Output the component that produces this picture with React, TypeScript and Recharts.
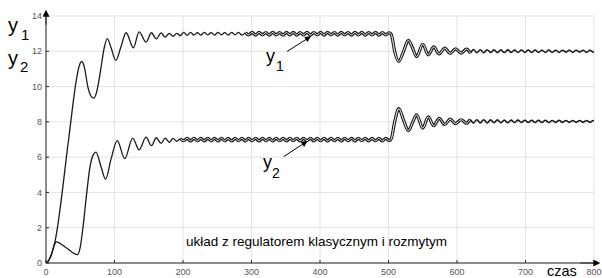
import { LineChart, Line, XAxis, YAxis, CartesianGrid, ReferenceLine } from "recharts";

const FONT = '"Liberation Sans", Arial, sans-serif';

const xTicks = [0, 100, 200, 300, 400, 500, 600, 700, 800];
const yTicks = [0, 2, 4, 6, 8, 10, 12, 14];

// y1: rozruch, tętnienia, skok zadanej w t=500, ogon
const y1Start: [number, number][] = [
    [0, 0], [4, 0.15], [8, 0.5], [13, 1.2], [33, 7.0], [44, 10.3], [48, 11.1], [52, 11.42],
    [56, 11.1], [61, 10.0], [66, 9.45], [70, 9.35], [74, 9.7], [80, 11.0], [85, 12.2], [89.5, 12.72],
    [95, 12.2], [102, 11.48], [109, 12.2], [117, 13.05], [127.5, 12.2], [136, 13.1], [146, 12.52],
    [154, 13.05], [161, 12.7], [168, 13.04], [174, 12.8], [180, 13.02], [185.5, 12.85], [191, 13.02], [196, 12.88],
];
const y1Ripple: [number, number][] = [
    [201, 13.07], [206, 12.91], [211, 13.07], [216, 12.92], [221, 13.06], [226, 12.92], [231, 13.07], [236, 12.93], [241, 13.06], [246, 12.92],
    [251, 13.07], [256, 12.93], [261, 13.06], [266, 12.92], [271, 13.07], [276, 12.93], [281, 13.07], [286, 12.92], [291, 13.06], [296, 12.93],
    [301, 13.07], [306, 12.92], [311, 13.07], [316, 12.93], [321, 13.06], [326, 12.92], [331, 13.07], [336, 12.93], [341, 13.06], [346, 12.92],
    [351, 13.07], [356, 12.93], [361, 13.07], [366, 12.92], [371, 13.06], [376, 12.93], [381, 13.07], [386, 12.92], [391, 13.06], [396, 12.93],
    [401, 13.07], [406, 12.92], [411, 13.07], [416, 12.93], [421, 13.06], [426, 12.92], [431, 13.07], [436, 12.93], [441, 13.06], [446, 12.92],
    [451, 13.07], [456, 12.93], [461, 13.07], [466, 12.92], [471, 13.06], [476, 12.93], [481, 13.07], [486, 12.92], [491, 13.06], [496, 12.93],
];
const y1Step: [number, number][] = [
    [501, 13.05], [504, 12.96], [509, 12.0], [515, 11.42], [522, 12.0], [529, 12.62], [535, 12.2], [541, 11.7],
    [550, 12.4], [558, 11.8], [566, 12.25], [574, 11.85], [582, 12.18], [590, 11.88], [598, 12.14], [606, 11.9], [614, 12.12],
];
const y1Tail: [number, number][] = [
    [619, 11.91], [624, 12.1], [629, 11.92], [634, 12.09], [639, 11.92], [644, 12.09], [649, 11.93], [654, 12.08], [659, 11.93], [664, 12.08],
    [669, 11.93], [674, 12.08], [679, 11.94], [684, 12.07], [689, 11.93], [694, 12.07], [699, 11.94], [704, 12.07], [709, 11.94], [714, 12.07],
    [719, 11.94], [724, 12.06], [729, 11.94], [734, 12.07], [739, 11.94], [744, 12.06], [749, 11.94], [754, 12.06], [759, 11.95], [764, 12.06],
    [769, 11.94], [774, 12.06], [779, 11.95], [784, 12.06], [789, 11.94], [794, 12.06], [799, 11.95], [800, 11.97],
];

// y2
const y2Start: [number, number][] = [
    [0, 0], [4, 0.15], [8, 0.5], [12, 1.0], [15, 1.2], [30, 0.85], [46, 0.48], [50, 0.9], [53.5, 1.86],
    [59.4, 3.95], [64, 5.4], [69, 6.13], [73, 6.28], [80, 5.5], [87, 4.75], [95, 5.9], [104, 6.94],
    [115, 5.92], [126.5, 7.08], [136, 6.41], [146, 7.13], [154, 6.65], [161, 7.1], [168, 6.78], [174, 7.08],
    [180, 6.84], [185.5, 7.06], [191, 6.9], [196, 7.05],
];
const y2Ripple: [number, number][] = [
    [201, 6.93], [206, 7.07], [211, 6.92], [216, 7.07], [221, 6.93], [226, 7.06], [231, 6.92], [236, 7.07], [241, 6.93], [246, 7.06],
    [251, 6.92], [256, 7.07], [261, 6.93], [266, 7.06], [271, 6.92], [276, 7.07], [281, 6.93], [286, 7.07], [291, 6.92], [296, 7.06],
    [301, 6.93], [306, 7.07], [311, 6.92], [316, 7.07], [321, 6.93], [326, 7.06], [331, 6.92], [336, 7.07], [341, 6.93], [346, 7.06],
    [351, 6.92], [356, 7.07], [361, 6.93], [366, 7.07], [371, 6.92], [376, 7.06], [381, 6.93], [386, 7.07], [391, 6.92], [396, 7.06],
    [401, 6.93], [406, 7.07], [411, 6.92], [416, 7.07], [421, 6.93], [426, 7.06], [431, 6.92], [436, 7.07], [441, 6.93], [446, 7.06],
    [451, 6.92], [456, 7.07], [461, 6.93], [466, 7.07], [471, 6.92], [476, 7.06], [481, 6.93], [486, 7.07], [491, 6.92], [496, 7.06],
];
const y2Step: [number, number][] = [
    [501, 6.94], [504, 7.04], [509, 8.0], [515, 8.75], [522, 8.1], [529, 7.5], [535, 7.95], [541, 8.4],
    [550, 7.65], [558, 8.28], [566, 7.78], [574, 8.2], [582, 7.85], [590, 8.15], [598, 7.9], [606, 8.12], [614, 7.92],
];
const y2Tail: [number, number][] = [
    [619, 8.13], [624, 7.93], [629, 8.12], [634, 7.94], [639, 8.12], [644, 7.94], [649, 8.11], [654, 7.95], [659, 8.11], [664, 7.95],
    [669, 8.1], [674, 7.95], [679, 8.1], [684, 7.96], [689, 8.1], [694, 7.96], [699, 8.09], [704, 7.96], [709, 8.09], [714, 7.96],
    [719, 8.09], [724, 7.97], [729, 8.09], [734, 7.96], [739, 8.08], [744, 7.97], [749, 8.09], [754, 7.97], [759, 8.08], [764, 7.97],
    [769, 8.08], [774, 7.97], [779, 8.08], [784, 7.97], [789, 8.08], [794, 7.97], [799, 8.08], [800, 8.05],
];

const y1 = [...y1Start, ...y1Ripple, ...y1Step, ...y1Tail];
const y2 = [...y2Start, ...y2Ripple, ...y2Step, ...y2Tail];

const part = (pts: [number, number][], from: number, to: number) =>
    pts.filter(([t]) => t >= from && t <= to).map(([t, v]) => ({ t, v }));

const AX = "#262626";
const LINE = "#1a1a1a";

export default function App() {
    const lines = [
        { id: "y1a", data: part(y1, 0, 291), w: 1.3, tube: false },
        { id: "y1b", data: part(y1, 291, 619), w: 3.2, tube: true },
        { id: "y1c", data: part(y1, 614, 800), w: 1.6, tube: false },
        { id: "y2a", data: part(y2, 0, 201), w: 1.3, tube: false },
        { id: "y2b", data: part(y2, 196, 619), w: 3.2, tube: true },
        { id: "y2c", data: part(y2, 614, 800), w: 1.6, tube: false },
    ];

    return (
        <div style={{ position: "absolute", left: 0, top: 0, width: 602, height: 278, background: "#fff" }}>
            <LineChart width={602} height={278} margin={{ top: 16, right: 8, left: 6, bottom: 0 }}>
                <defs>
                    <marker id="smArrow" viewBox="0 0 10 10" refX="9" refY="5" markerWidth="7" markerHeight="6"
                        markerUnits="userSpaceOnUse" orient="auto">
                        <path d="M0,0 L10,5 L0,10 z" fill="#000" />
                    </marker>
                    <marker id="axArrow" viewBox="0 0 10 10" refX="1" refY="5" markerWidth="8" markerHeight="7"
                        markerUnits="userSpaceOnUse" orient="auto">
                        <path d="M0,0 L10,5 L0,10 z" fill="#000" />
                    </marker>
                </defs>
                <CartesianGrid stroke="#e3e3e3" strokeWidth={1} />
                <XAxis dataKey="t" type="number" domain={[0, 800]} ticks={xTicks} interval={0} height={15}
                    tickSize={-3} tickMargin={9} tickLine={{ stroke: AX }} axisLine={{ stroke: AX }}
                    tick={{ fontSize: 9, fill: "#555", fontFamily: FONT }} allowDataOverflow />
                <XAxis xAxisId="top" orientation="top" type="number" domain={[0, 800]} ticks={xTicks} interval={0}
                    height={0} tick={false} tickSize={-3} tickLine={{ stroke: AX }} axisLine={{ stroke: AX }} />
                <YAxis type="number" domain={[0, 14]} ticks={yTicks} interval={0} width={40}
                    tickSize={-3} tickMargin={7} tickLine={{ stroke: AX }} axisLine={{ stroke: AX }}
                    tick={{ fontSize: 9, fill: "#555", fontFamily: FONT }} allowDataOverflow />
                <YAxis yAxisId="right" orientation="right" type="number" domain={[0, 14]} ticks={yTicks} interval={0}
                    width={0} tick={false} tickSize={-3} tickLine={{ stroke: AX }} axisLine={{ stroke: AX }} />

                {lines.map((l) => (
                    <Line key={l.id} data={l.data} dataKey="v" type="monotone" stroke={LINE} strokeWidth={l.w}
                        dot={false} activeDot={false} isAnimationActive={false} />
                ))}
                {lines.filter((l) => l.tube).map((l) => (
                    <Line key={l.id + "w"} data={l.data} dataKey="v" type="monotone" stroke="#fff" strokeWidth={1}
                        dot={false} activeDot={false} isAnimationActive={false} />
                ))}

                <ReferenceLine segment={[{ x: 352, y: 11.99 }, { x: 386, y: 12.83 }]} stroke="#000" strokeWidth={1}
                    markerEnd="url(#smArrow)" />
                <ReferenceLine segment={[{ x: 347, y: 6.03 }, { x: 381, y: 6.89 }]} stroke="#000" strokeWidth={1}
                    markerEnd="url(#smArrow)" />

                {/* strzałki osi */}
                <ReferenceLine segment={[{ x: 0, y: 13.5 }, { x: 0, y: 14 }]} stroke={AX} strokeWidth={1}
                    markerEnd="url(#axArrow)" />
                <ReferenceLine segment={[{ x: 780, y: 0 }, { x: 800, y: 0 }]} stroke={AX} strokeWidth={1}
                    markerEnd="url(#axArrow)" />

                <text x={8} y={32} fontFamily={FONT} fontSize={20} fill="#000">
                    y<tspan x={21} y={39.5} fontSize={15}>1</tspan>
                </text>
                <text x={8} y={65} fontFamily={FONT} fontSize={20} fill="#000">
                    y<tspan x={20} y={72} fontSize={15}>2</tspan>
                </text>
                <text x={266} y={62} fontFamily={FONT} fontSize={18} fill="#000">
                    y<tspan x={276} y={71} fontSize={14}>1</tspan>
                </text>
                <text x={263} y={168} fontFamily={FONT} fontSize={18} fill="#000">
                    y<tspan x={272} y={177.5} fontSize={14}>2</tspan>
                </text>
                <text x={186} y={246} fontFamily={FONT} fontSize={13.5} fill="#000">
                    układ z regulatorem klasycznym i rozmytym
                </text>
                <text x={547} y={276} fontFamily={FONT} fontSize={14.5} fill="#000">czas</text>
            </LineChart>
        </div>
    );
}
